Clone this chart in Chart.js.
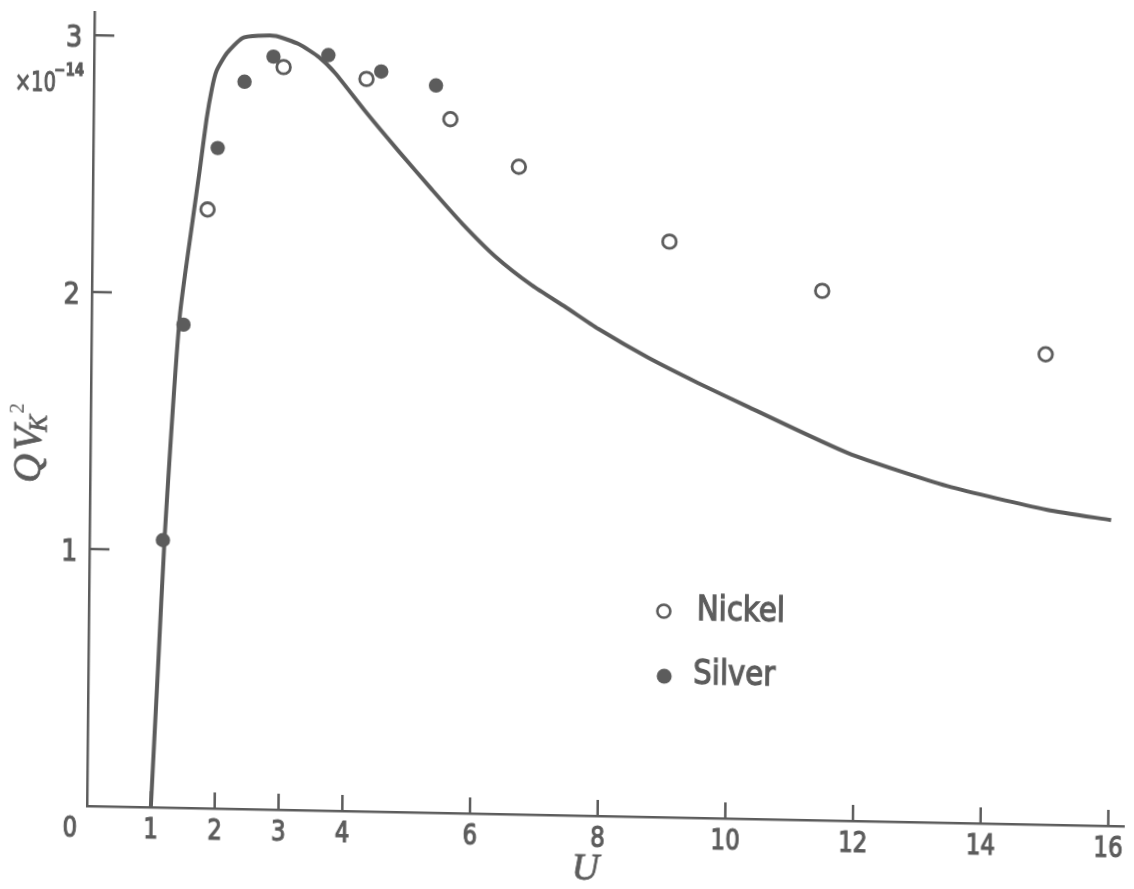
<!DOCTYPE html>
<html>
<head>
<meta charset="utf-8">
<script src="https://cdn.jsdelivr.net/npm/chart.js@4.4.1/dist/chart.umd.min.js"></script>
<style>
  html, body { margin: 0; padding: 0; background: #fff; overflow: hidden; }
  /* the scanned figure is slightly skewed, so the whole drawing is too */
  #wrap {
    width: 1134px; height: 889px;
    transform: matrix(1, 0.0195, -0.0095, 1, 0, 0);
    transform-origin: 87px 806px;
  }
</style>
</head>
<body>
<div id="wrap"><canvas id="chart"></canvas></div>
<script>
// tick labels
const xTicks = [0, 1, 2, 3, 4, 6, 8, 10, 12, 14, 16];
const yTicks = [1, 2, 3];

// theoretical curve, Q·Vk² (×10⁻¹⁴) against U
const curveU = [1.0, 1.09, 1.18, 1.38, 1.57, 1.67, 1.77, 1.85, 1.92, 2.08, 2.32, 2.59, 2.85, 3.21, 3.53, 3.78, 4.27, 4.79, 5.31, 5.79, 6.32, 6.89, 7.42, 7.94, 8.73, 9.51, 10.3, 11.87, 13.43, 15.0, 16.0];
const curveQ = [0, 0.53, 1.07, 1.91, 2.29, 2.48, 2.68, 2.80, 2.87, 2.94, 3.0, 3.01, 3.01, 2.98, 2.93, 2.87, 2.72, 2.57, 2.425, 2.295, 2.168, 2.06, 1.978, 1.895, 1.786, 1.692, 1.603, 1.431, 1.31, 1.225, 1.19];

// measured points
const nickelU = [1.80, 2.97, 4.27, 5.59, 6.67, 9.04, 11.44, 14.95];
const nickelQ = [2.33, 2.89, 2.85, 2.70, 2.52, 2.24, 2.06, 1.83];
const silverU = [1.15, 1.44, 1.95, 2.36, 2.81, 3.67, 4.50, 5.36];
const silverQ = [1.04, 1.88, 2.57, 2.83, 2.93, 2.94, 2.88, 2.83];

const ink = "#5c5c5c";
const pts = (xs, ys) => xs.map((v, i) => ({ x: v, y: ys[i] }));

// text with a thin outline so it reads as heavy as the printed lettering
function txt(ctx, s, px, py, font, align, sx, heavy) {
  ctx.save();
  ctx.translate(px, py);
  ctx.scale(sx, 1);
  ctx.font = font;
  ctx.textAlign = align;
  ctx.textBaseline = "middle";
  ctx.fillText(s, 0, 0);
  if (heavy) {
    ctx.lineWidth = heavy;
    ctx.strokeText(s, 0, 0);
  }
  ctx.restore();
}

// inward ticks, labels, axis titles and the legend
const decor = {
  id: "decor",
  afterDraw(chart) {
    const { ctx, chartArea: a, scales: { x, y } } = chart;
    ctx.save();
    ctx.strokeStyle = ink;
    ctx.fillStyle = ink;
    ctx.lineWidth = 2.5;

    ctx.beginPath();
    xTicks.filter(v => v > 0).forEach(v => {
      const px = x.getPixelForValue(v);
      ctx.moveTo(px, a.bottom);
      ctx.lineTo(px, a.bottom - 16);
    });
    yTicks.forEach(v => {
      const py = y.getPixelForValue(v);
      ctx.moveTo(a.left, py);
      ctx.lineTo(a.left + 20, py);
    });
    ctx.stroke();

    xTicks.forEach(v => {
      const px = v === 0 ? a.left - 17 : x.getPixelForValue(v);
      txt(ctx, String(v), px, a.bottom + 24, '28px "DejaVu Sans"', "center", 0.82, 1.2);
    });
    yTicks.forEach(v => {
      txt(ctx, String(v), a.left - 12, y.getPixelForValue(v) + 4, '30px "DejaVu Sans"', "right", 0.85, 1.2);
    });

    // ×10⁻¹⁴ under the 3
    txt(ctx, "\u00d710", 8, 85, '27px "DejaVu Sans"', "left", 0.72, 1.2);
    txt(ctx, "\u221214", 47, 72, 'bold 17px "DejaVu Sans"', "left", 0.8, 0.8);

    // x title
    ctx.font = 'italic 38px "Liberation Serif"';
    ctx.textAlign = "center";
    ctx.textBaseline = "middle";
    ctx.lineWidth = 0.8;
    ctx.fillText("U", 586, 860);
    ctx.strokeText("U", 586, 860);

    // y title, rotated: Q V_K ^2
    ctx.save();
    ctx.translate(37, 484);
    ctx.rotate(-Math.PI / 2);
    ctx.textAlign = "left";
    ctx.textBaseline = "alphabetic";
    ctx.lineWidth = 0.8;
    ctx.font = 'italic 40px "Liberation Serif"';
    ctx.fillText("Q", 0, 0);
    ctx.strokeText("Q", 0, 0);
    let w = ctx.measureText("Q").width + 3;
    ctx.fillText("V", w, 0);
    ctx.strokeText("V", w, 0);
    w += ctx.measureText("V").width - 5;
    ctx.font = 'italic 25px "Liberation Serif"';
    ctx.fillText("K", w, 6);
    ctx.strokeText("K", w, 6);
    w += ctx.measureText("K").width + 1;
    ctx.font = '21px "Liberation Serif"';
    ctx.fillText("2", w, -17);
    ctx.restore();

    // legend
    ctx.lineWidth = 2.6;
    ctx.beginPath();
    ctx.arc(662, 600, 6.5, 0, Math.PI * 2);
    ctx.fillStyle = "#fff";
    ctx.fill();
    ctx.stroke();
    ctx.fillStyle = ink;
    ctx.beginPath();
    ctx.arc(663, 665, 7.5, 0, Math.PI * 2);
    ctx.fill();
    txt(ctx, "Nickel", 695, 599, '34px "DejaVu Sans"', "left", 0.86, 1.3);
    txt(ctx, "Silver", 692, 663, '34px "DejaVu Sans"', "left", 0.86, 1.3);
    ctx.restore();
  }
};

new Chart(document.getElementById("chart"), {
  type: "scatter",
  data: {
    datasets: [
      {
        label: "Nickel",
        data: pts(nickelU, nickelQ),
        pointRadius: 6.8,
        pointBorderWidth: 2.8,
        pointBackgroundColor: "#fff",
        pointBorderColor: ink,
      },
      {
        label: "Silver",
        data: pts(silverU, silverQ),
        pointRadius: 7.2,
        pointBorderWidth: 0,
        pointBackgroundColor: ink,
        pointBorderColor: ink,
      },
      {
        label: "Theory",
        data: pts(curveU, curveQ),
        showLine: true,
        borderColor: ink,
        borderWidth: 4,
        pointRadius: 0,
        tension: 0.2,
      },
    ],
  },
  options: {
    responsive: true,
    maintainAspectRatio: false,
    animation: false,
    devicePixelRatio: 1,
    layout: { padding: { top: 12, right: 7, left: 0, bottom: 0 } },
    plugins: {
      legend: { display: false },
      tooltip: { enabled: false },
    },
    scales: {
      x: {
        type: "linear",
        min: 0,
        max: 16.25,
        grid: { display: false },
        border: { display: true, color: ink, width: 2.5 },
        ticks: { display: false },
        afterFit: s => { s.height = 83; },
      },
      y: {
        type: "linear",
        min: 0,
        max: 3.09,
        grid: { display: false },
        border: { display: true, color: ink, width: 2.5 },
        ticks: { display: false },
        afterFit: s => { s.width = 87; },
      },
    },
  },
  plugins: [decor],
});
</script>
</body>
</html>
